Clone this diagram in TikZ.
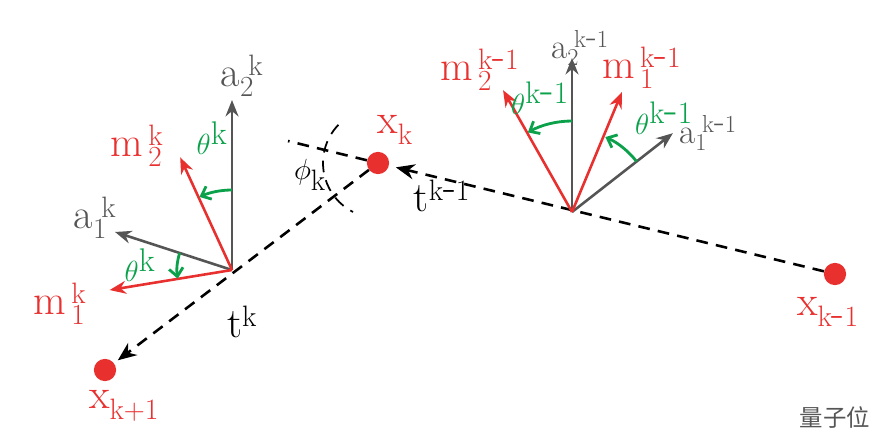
\documentclass[tikz,border=0pt]{standalone}
\usepackage{fontspec}
\newfontfamily\cjk{Noto Sans CJK SC}
\usetikzlibrary{arrows.meta}
\definecolor{redm}{HTML}{E8302F}
\definecolor{graya}{HTML}{555555}
\definecolor{greenth}{HTML}{0BA14B}
\newcommand{\kmo}{\mathrm{k}\mbox{-}\mathrm{1}}

\begin{document}
\begin{tikzpicture}[x=0.03cm,y=0.03cm,font=\fontsize{36}{42}\selectfont]
  \useasboundingbox (0,0) rectangle (888,436);

  \tikzset{axis arc/.style={-{Stealth[length=14pt,width=11pt]}, graya, line width=2.2pt},
           meas arc/.style={-{Stealth[length=14pt,width=11pt]}, redm, line width=2.2pt},
           turn arc/.style={-{Straight Barb[length=7pt,width=12pt]}, greenth, line width=2.4pt},
           path arc/.style={dashed, black, line width=2.2pt, dash pattern=on 10pt off 7pt},
           dot/.style={circle, fill=redm, inner sep=0pt, minimum size=19pt}}

  % poses
  \node[dot] (xkm1) at (835,162) {};
  \node[dot] (xk) at (378,273) {};
  \node[dot] (xkp1) at (105,66) {};
  \coordinate (O1) at (232,166);
  \coordinate (O2) at (572,224);
  \coordinate (ext) at (288,295);

  \draw[path arc, -{Stealth[length=16pt,width=13pt]}, shorten >=6pt] (xkm1) -- (xk);
  \draw[path arc, -{Stealth[length=16pt,width=13pt]}, shorten >=4pt] (xk) -- (xkp1);
  \draw[path arc] (xk) -- (ext);
  \draw[path arc, line width=1.5pt] ([shift={(136:55)}]xk) arc (136:243:55);

  % frame k
  \draw[axis arc] (O1) -- ++(90:170) coordinate (a2k);
  \draw[axis arc] (O1) -- ++(162:123) coordinate (a1k);
  \draw[meas arc] (O1) -- ++(114.7:124) coordinate (m2k);
  \draw[meas arc] (O1) -- ++(189.3:124) coordinate (m1k);
  \draw[turn arc] ([shift={(90:80)}]O1) arc (90:114:80);
  \draw[turn arc] ([shift={(162:55)}]O1) arc (162:189:55);

  % frame k-1
  \draw[axis arc] (O2) -- ++(90:154) coordinate (a2km1);
  \draw[axis arc] (O2) -- ++(38:128) coordinate (a1km1);
  \draw[meas arc] (O2) -- ++(119.5:140) coordinate (m2km1);
  \draw[meas arc] (O2) -- ++(67.4:130) coordinate (m1km1);
  \draw[turn arc] ([shift={(90:91)}]O2) arc (90:119:91);
  \draw[turn arc] ([shift={(38:82)}]O2) arc (38:66:82);

  % labels
  \node[redm] (lxkm1) at (828,124) {$\mathrm{x}_{\kmo}$};
  \node[redm] (lxk) at (395,306) {$\mathrm{x}_{\mathrm{k}}$};
  \node[redm] (lxkp1) at (124,30) {$\mathrm{x}_{\mathrm{k+1}}$};
  \node (ltkm1) at (442,240) {$\mathrm{t}^{\kmo}$};
  \node (ltk) at (242,114) {$\mathrm{t}^{\mathrm{k}}$};
  \node (lphi) at (310,261) {$\phi_{\mathrm{k}}$};
  \node[graya] (la2k) at (242,360) {$\mathrm{a}_{2}^{\;\mathrm{k}}$};
  \node[graya] (la1k) at (95,218) {$\mathrm{a}_{1}^{\;\mathrm{k}}$};
  \node[redm] (lm2k) at (137,290) {$\mathrm{m}_{\,2}^{\,\mathrm{k}}$};
  \node[redm] (lm1k) at (60,132) {$\mathrm{m}_{\,1}^{\,\mathrm{k}}$};
  \node[greenth, font=\fontsize{40}{46}\selectfont] (lthk) at (212,298) {$\theta^{\mathrm{k}}$};
  \node[greenth, font=\fontsize{40}{46}\selectfont] (lthk2) at (140,171) {$\theta^{\mathrm{k}}$};
  \node[graya, font=\fontsize{30}{36}\selectfont] (la2km1) at (580,388) {$\mathrm{a}_{2}^{\;\kmo}$};
  \node[redm] (lm1km1) at (642,368) {$\mathrm{m}_{\,1}^{\,\kmo}$};
  \node[redm] (lm2km1) at (480,366) {$\mathrm{m}_{\,2}^{\,\kmo}$};
  \node[greenth, font=\fontsize{38}{44}\selectfont] (lthkm1) at (540,338) {$\theta^{\kmo}$};
  \node[greenth, font=\fontsize{38}{44}\selectfont] (lthkm12) at (664,318) {$\theta^{\kmo}$};
  \node[graya, font=\fontsize{30}{36}\selectfont] (la1km1) at (708,303) {$\mathrm{a}_{1}^{\;\kmo}$};

  \node[graya, font=\fontsize{20}{24}\cjk] (wm) at (835,18) {量子位};
\end{tikzpicture}
\end{document}
